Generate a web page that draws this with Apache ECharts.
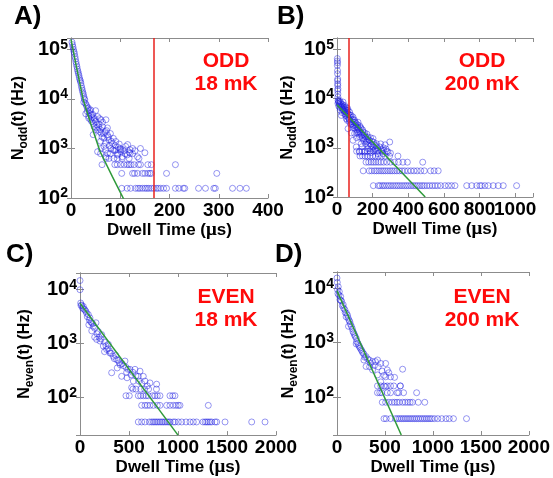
<!DOCTYPE html>
<html>
<head>
<meta charset="utf-8">
<script src="https://cdn.jsdelivr.net/npm/echarts@6/dist/echarts.min.js"></script>
<style>
  html, body { margin: 0; padding: 0; background: #fff; }
  #chart { width: 553px; height: 478px; }
</style>
</head>
<body>
<div id="chart"></div>
<script>
// dwell time (us) vs rate (Hz)
const oddColdPts = [
  [2,140000],[3,125000],[4,112000],[5,100000],[6,90000],[7,82000],[8,72000],[9,64000],[10,56000],[11,50000],
  [12,45000],[13,40000],[14,36000],[15,33000],[16,30000],[17,27000],[18,24500],[19,23000],[20,21000],[21,18500],
  [22,16500],[23,15000],[24,13500],[25,12500],[26,11200],[27,10200],[28,9600],[26,8600],[29,8200],[31,7600],
  [32,7000],[34,6300],[35,6600],[33,5600],[37,5200],[38,5800],[40,6000],[41,4800],[44,4900],[43,4300],
  [47,4100],[36,4100],[40,3800],[50,5800],
  [54,4400],[61,3800],[50,3500],[57,3100],[64,2750],[47,2750],[54,2350],[61,2030],[69,2200],[74,1870],
  [67,1610],[77,1480],[84,1270],[91,1380],[98,1230],[61,1000],[67,1100],[81,1000],[91,930],[101,860],
  [111,1100],[125,1000],[94,740],[104,680],[114,740],[135,680],[141,1000],[54,860],[71,680],[74,800],
  [71,3800],[74,2600],[45,3200],[52,2600],[58,2200],[63,1700],[70,1300],[78,1150],[86,1600],[88,900],
  [96,1050],[105,950],[118,850],[80,2000],[60,1400],[45,1900],
  [30,5000],[36,4500],[42,3500],[48,3800],[52,3000],[56,2700],[60,2400],[66,2000],[72,2300],[58,4000],
  [64,3400],[76,1700],[82,1400],[90,1150],[100,1000],[108,900],[115,1200],[130,900],[120,800],[150,820],
  [60,785],[80,785],[95,785],[110,785],[125,785],[70,942],[85,942],[100,942],[120,942],
  [71,628],[77,628],[87,628],[94,628],[104,628],[118,628],[138,628],
  [63,471],[89,471],[94,471],[101,471],[108,471],[114,471],[118,471],[122,471],[128,471],[137,471],
  [141,471],[156,471],[163,471],[212,471],
  [103,314],[125,314],[129,314],[135,314],[145,314],[150,314],[156,314],[160,314],[163,314],[194,314],[296,314],
  [103,157],[114,157],[121,157],[131,157],[136,157],[140,157],[145,157],[150,157],[154,157],[158,157],
  [163,157],[168,157],[173,157],[177,157],[182,157],[188,157],[194,157],[212,157],[219,157],[228,157],
  [231,157],[259,157],[273,157],[290,157],[293,157],[328,157],[343,157],[356,157]
]
const oddHotPts = [
  [2,65000],[2,58000],[3,53000],[2,47000],[3,37000],[3,32000],[4,25000],[3,23000],[4,20000],[4,18400],
  [5,15800],[4,14500],[5,12400],[5,10700],[6,9200],
  [15,9100],[24,7800],[34,8500],[43,7200],[15,6600],[34,6100],[52,6600],[62,5700],[43,4900],[71,5300],
  [80,4550],[24,4550],[52,3900],[90,4200],[99,3600],[71,3300],[108,3100],[118,3300],[127,2800],[90,2600],
  [62,2450],[136,2450],[146,2100],[118,2100],[99,1950],[155,1800],[174,1650],[127,1650],[183,1420],[202,1540],
  [165,1310],[136,1210],[193,1120],[221,1210],[240,1040],[211,890],[174,960],[155,820],[258,760],[286,820],
  [296,1310],[90,1420],[108,1040],[127,820],
  [8,8800],[12,8000],[20,8300],[28,7000],[30,6200],[38,6800],[45,6000],[55,5200],[60,6300],[65,4700],
  [75,4200],[85,3700],[95,3300],[105,2900],[115,2600],[125,2300],[135,2000],[150,1800],[160,1500],[170,1350],
  [185,1200],[200,1050],[215,950],[230,900],[250,900],[10,7000],[18,5800],[28,5200],[40,5500],[48,4500],
  [58,3600],[68,3800],[78,3000],[88,2900],[100,2500],[112,2300],[122,1900],[140,1600],[150,1400],[160,1200],
  [175,1100],[190,950],[205,1300],[220,1100],[260,1000],[275,950],[80,2000],[110,1600],[140,1050],[190,800],
  [230,760],[300,780],[270,1150],
  [5,8000],[10,8500],[14,7600],[22,7200],[26,6600],[32,7500],[36,5800],[42,6400],[46,5400],[50,4800],
  [54,5800],[58,4300],[62,4900],[66,4000],[70,3600],[74,4600],[80,3400],[84,3100],[92,3800],[96,2800],
  [102,3300],[106,2700],[112,2000],[116,2900],[120,2500],[128,2100],[132,2600],[138,1800],[144,2300],[148,1500],
  [156,2000],[162,1650],[168,1900],[178,1450],[188,1600],[196,1350],[208,1150],[226,1000],[245,1200],[262,880],
  [110,850],[125,850],[140,850],[155,850],[170,850],[185,850],[205,850],[225,850],[250,850],[280,850],
  [129,680],[143,680],[157,680],[171,680],[186,680],[200,680],[215,680],[232,680],[250,680],[270,680],[295,680],[342,680],
  [163,510],[178,510],[192,510],[205,510],[218,510],[232,510],[246,510],[262,510],[280,510],[300,510],
  [322,510],[345,510],[370,510],[395,510],[481,510],
  [147,340],[181,340],[195,340],[210,340],[222,340],[235,340],[248,340],[260,340],[272,340],[285,340],
  [298,340],[310,340],[323,340],[336,340],[350,340],[365,340],[380,340],[398,340],[415,340],[432,340],
  [450,340],[470,340],[490,340],[525,340],[545,340],[568,340],
  [204,170],[232,170],[242,170],[255,170],[265,170],[278,170],[290,170],[302,170],[315,170],[328,170],
  [340,170],[352,170],[365,170],[378,170],[390,170],[402,170],[415,170],[428,170],[440,170],[452,170],
  [465,170],[478,170],[490,170],[505,170],[520,170],[535,170],[550,170],[565,170],[582,170],[606,170],
  [625,170],[643,170],[662,170],[728,170],[756,170],[784,170],[802,170],[812,170],[830,170],[849,170],
  [877,170],[905,170],[933,170],[1008,170]
]
const evenColdPts = [
  [0,14500],[0,9800],[7,5560],[17,5100],[34,4800],[51,4150],[68,3600],[85,3400],[102,2950],[119,2400],
  [136,2050],[163,2400],[187,1650],[221,1450],[170,1180],[204,1100],[238,890],[289,960],[272,770],[306,660],
  [340,575],[323,285],[374,500],[401,435],[459,470],[442,385],[476,290],[510,330],[561,330],[612,305],
  [425,245],[595,245],[646,245],[527,152],[544,200],[663,200],[687,163],[714,185],[782,175],
  [10,5000],[25,4500],[40,4300],[60,3900],[75,3100],[95,2700],[110,2500],[130,2300],[150,1900],[175,1500],
  [195,1300],[215,1200],[250,1050],[265,900],[285,800],[300,720],[320,650],[350,520],[365,600],[390,480],
  [410,400],[430,420],[470,360],[490,330],[520,260],[540,290],[570,250],[600,200],[630,180],[150,1300],
  [120,1700],[90,2200],[250,700],[380,350],[480,230],
  [540,142],[570,142],[620,142],[660,142],[700,142],[780,142],
  [469,107],[503,107],[595,107],[619,107],[646,107],[673,107],[697,107],[741,107],[765,107],[789,107],
  [816,107],[918,107],[946,107],[969,107],
  [629,71],[663,71],[687,71],[714,71],[748,71],[789,71],[816,71],[884,71],[918,71],[952,71],
  [980,71],[1003,71],[1020,71],[1309,71],
  [595,35],[629,35],[663,35],[707,35],[730,35],[748,35],[765,35],[782,35],[800,35],[818,35],
  [835,35],[852,35],[870,35],[888,35],[905,35],[920,35],[952,35],[970,35],[1003,35],[1038,35],
  [1082,35],[1122,35],[1156,35],[1190,35],[1255,35],[1276,35],[1293,35],[1309,35],[1327,35],[1344,35],
  [1378,35],[1395,35],[1480,35],[1752,35],[1888,35]
]
const evenHotPts = [
  [0,15500],[3,12900],[13,10700],[24,8700],[38,7100],[48,5800],[65,5000],[82,4050],[99,3500],[116,2850],
  [133,2450],[150,2000],[167,1600],[184,1380],[201,1200],[218,980],[235,850],[252,745],[269,650],[303,555],
  [337,480],[371,450],[422,480],[456,415],[507,415],[524,315],[303,365],[371,315],[422,255],[507,235],
  [558,235],[684,325],[456,190],[507,155],[660,160],
  [5,9500],[10,8000],[20,7500],[30,6200],[40,6000],[55,4800],[70,4300],[85,3600],[95,3000],[110,3200],
  [125,2600],[140,2200],[160,1800],[175,1500],[190,1300],[205,1050],[225,900],[240,800],[260,700],[280,620],
  [290,540],[320,500],[350,420],[390,380],[400,450],[430,360],[470,300],[490,250],[540,280],[600,230],
  [120,2000],[200,950],[280,480],[340,360],
  [422,160],[456,160],[490,160],[524,160],[558,160],[592,160],[660,160],
  [422,120],[446,120],[466,120],[524,120],[558,120],[626,120],[643,120],[694,120],[830,120],
  [472,80],[507,80],[541,80],[575,80],[602,80],[626,80],[650,80],[684,80],[711,80],[738,80],
  [762,80],[786,80],[847,80],[915,80],
  [490,40],[513,40],[558,40],[609,40],[630,40],[650,40],[670,40],[690,40],[710,40],[730,40],
  [750,40],[770,40],[790,40],[810,40],[830,40],[850,40],[870,40],[890,40],[910,40],[930,40],
  [950,40],[970,40],[990,40],[1017,40],[1051,40],[1092,40],[1136,40],[1170,40],[1214,40],[1350,40]
]

// exponential fits (green) and cut-off times (red)
const oddColdFit = [[0,160000],[10,50000],[25,9500],[40,3200],[59,870],[84,270],[108,91]]
const oddHotFit = [[0,7500],[495,100]]
const evenColdFit = [[0,5500],[1000,20]]
const evenHotFit = [[0,9000],[670,20]]
const oddColdCut = 168
const oddHotCut = 67

const panelTags = ['A)', 'B)', 'C)', 'D)']
const panelNotes = ['ODD\n18 mK', 'ODD\n200 mK', 'EVEN\n18 mK', 'EVEN\n200 mK']

const font = '"Liberation Sans", Arial, sans-serif'
const axisGray = '#8c8c8c'

const panels = [
  { box: { left: 71, top: 38, width: 197, height: 160 }, xMax: 400, xStep: 100, yMin: 100, yMax: 170000,
    sub: 'odd', nameGap: 41, pts: oddColdPts, fit: oddColdFit, cut: oddColdCut, tag: [14, 4], note: [226, 50] },
  { box: { left: 337, top: 38, width: 196, height: 159 }, xMax: 1100, xStep: 200, yMin: 100, yMax: 170000,
    sub: 'odd', nameGap: 38, pts: oddHotPts, fit: oddHotFit, cut: oddHotCut, tag: [277, 4], note: [482, 50] },
  { box: { left: 80, top: 273, width: 196, height: 163 }, xMax: 2000, xStep: 500, yMin: 20, yMax: 20000,
    sub: 'even', nameGap: 44, pts: evenColdPts, fit: evenColdFit, cut: null, tag: [6, 242], note: [226, 286] },
  { box: { left: 337, top: 272, width: 196, height: 163 }, xMax: 2000, xStep: 500, yMin: 20, yMax: 20000,
    sub: 'even', nameGap: 37, pts: evenHotPts, fit: evenHotFit, cut: null, tag: [275, 242], note: [482, 286] }
]

function powLabel(v) {
  const e = Math.log10(v)
  if (Math.abs(e - Math.round(e)) > 1e-6) {
    return ''
  }
  return '{b|10}{s|' + Math.round(e) + '}'
}

const grid = []
const xAxis = []
const yAxis = []
const series = []
const graphic = []

panels.forEach((p, i) => {
  grid.push(p.box)
  const frame = { lineStyle: { color: axisGray, width: 1 } }
  const ticks = { inside: true, length: 4, lineStyle: { color: axisGray } }
  xAxis.push({
    type: 'value', gridIndex: i, position: 'bottom', min: 0, max: p.xMax, interval: p.xStep,
    axisLine: frame, axisTick: ticks, splitLine: { show: false },
    axisLabel: {
      margin: 3, color: '#000', fontFamily: font, fontWeight: 'bold', fontSize: 19,
      formatter: v => (v % p.xStep === 0 ? String(v) : '')
    },
    name: 'Dwell Time ({m|\u03bc}s)', nameLocation: 'middle', nameGap: 22,
    nameTextStyle: {
      color: '#000', fontFamily: font, fontWeight: 'bold', fontSize: 17,
      rich: { m: { color: '#000', fontFamily: '"Liberation Serif", serif', fontSize: 19 } }
    }
  })
  xAxis.push({
    type: 'value', gridIndex: i, position: 'top', min: 0, max: p.xMax, interval: p.xStep,
    axisLine: frame, axisTick: ticks, axisLabel: { show: false }, splitLine: { show: false }
  })
  yAxis.push({
    type: 'log', logBase: 10, gridIndex: i, position: 'left', min: p.yMin, max: p.yMax,
    axisLine: frame, axisTick: ticks, splitLine: { show: false },
    axisLabel: {
      margin: 3, formatter: powLabel,
      rich: {
        b: { color: '#000', fontFamily: font, fontWeight: 'bold', fontSize: 20 },
        s: { color: '#000', fontFamily: font, fontWeight: 'bold', fontSize: 14, padding: [0, 0, 9, 0] }
      }
    },
    name: 'N{s|' + p.sub + '}(t) (Hz)', nameLocation: 'middle', nameGap: p.nameGap,
    nameTextStyle: {
      color: '#000', fontFamily: font, fontWeight: 'bold', fontSize: 16,
      rich: { s: { color: '#000', fontFamily: font, fontWeight: 'bold', fontSize: 12, padding: [11, 0, 0, 0] } }
    }
  })
  yAxis.push({
    type: 'log', logBase: 10, gridIndex: i, position: 'right', min: p.yMin, max: p.yMax,
    axisLine: frame, axisTick: ticks, axisLabel: { show: false }, splitLine: { show: false }
  })

  series.push({
    type: 'scatter', xAxisIndex: i * 2, yAxisIndex: i * 2, data: p.pts,
    symbol: 'circle', symbolSize: 6,
    itemStyle: { color: 'rgba(0,0,0,0)', borderColor: 'rgba(30,30,225,0.58)', borderWidth: 1 }
  })
  const fit = {
    type: 'line', xAxisIndex: i * 2, yAxisIndex: i * 2, data: p.fit,
    showSymbol: false, z: 3,
    lineStyle: { color: '#2f9a3a', width: 1.5 }
  }
  if (p.cut !== null) {
    fit.markLine = {
      silent: true, symbol: ['none', 'none'], label: { show: false },
      lineStyle: { color: '#e8201c', width: 1.5, type: 'solid' },
      data: [{ xAxis: p.cut }]
    }
  }
  series.push(fit)

  graphic.push({
    type: 'text', left: p.tag[0], top: p.tag[1],
    style: { text: panelTags[i], fill: '#000', font: 'bold 26px ' + font }
  })
  graphic.push({
    type: 'text', x: p.note[0], y: p.note[1],
    style: {
      text: panelNotes[i], fill: '#ff0a0a', font: 'bold 21px ' + font,
      align: 'center', textAlign: 'center', verticalAlign: 'top', textVerticalAlign: 'top', lineHeight: 23
    }
  })
})

const chart = echarts.init(document.getElementById('chart'))
chart.setOption({
  backgroundColor: '#fff',
  animation: false,
  grid: grid,
  xAxis: xAxis,
  yAxis: yAxis,
  series: series,
  graphic: graphic
})
</script>
</body>
</html>
